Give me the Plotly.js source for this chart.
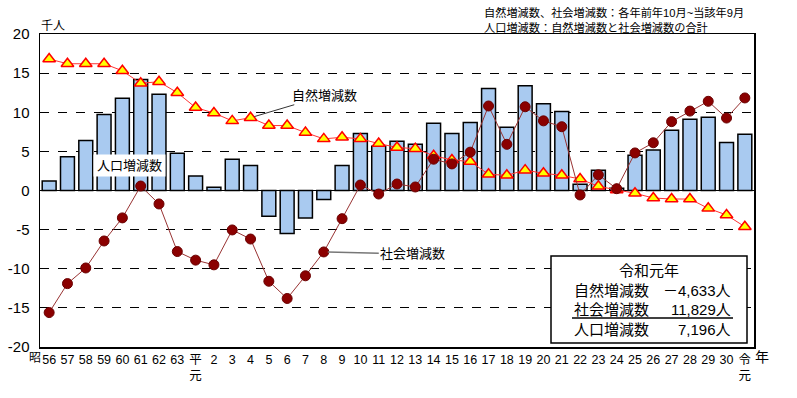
<!DOCTYPE html>
<html>
<head>
<meta charset="utf-8">
<script src="https://cdn.plot.ly/plotly-3.0.1.min.js"></script>
<style>html,body{margin:0;padding:0;background:#fff;}#chart{width:797px;height:398px;}</style>
</head>
<body>
<div id="chart"></div>
<script>
const categories = ['56','57','58','59','60','61','62','63','平<br>元','2','3','4','5','6','7','8','9','10',
  '11','12','13','14','15','16','17','18','19','20','21','22','23','24','25','26','27','28','29','30','令<br>元'];
const populationChange = [1.2,4.3,6.4,9.7,11.8,14.2,12.3,4.75,1.85,0.4,4.0,3.2,-3.3,-5.5,-3.5,-1.15,3.2,7.3,5.65,6.3,
  5.9,8.6,7.3,8.7,13.05,8.07,13.4,11.1,10.1,0.8,2.6,0.3,4.5,5.17,7.7,9.1,9.35,6.15,7.196];
const naturalChange = [16.8,16.2,16.2,16.2,15.3,13.7,13.9,12.5,10.6,9.9,8.9,9.3,8.3,8.3,7.4,6.6,6.8,6.6,6.0,5.5,
  5.35,4.45,3.9,3.7,2.07,1.94,2.6,2.2,1.94,1.47,0.53,0.06,-0.36,-0.96,-1.09,-1.09,-2.28,-3.13,-4.633];
const socialChange = [-15.6,-11.9,-9.9,-6.45,-3.5,0.57,-1.72,-7.8,-8.9,-9.5,-5.04,-6.2,-11.6,-13.8,-10.9,-7.85,-3.6,0.7,-0.45,0.83,
  0.45,4.0,3.4,4.9,10.8,5.9,10.7,8.9,8.15,-0.57,2.0,0.23,4.8,6.1,8.8,10.15,11.4,9.26,11.829];
const yTicks = [-20,-15,-10,-5,0,5,10,15,20];

const FONT = 'Liberation Sans, Arial, Noto Sans CJK JP, sans-serif';
const W = 797, H = 398;
const L = 40, R = 754, T = 34, B = 347;
const px = x => (x - L) / (R - L);
const py = y => (B - y) / (B - T);

const traces = [
  {type:'bar', name:'人口増減数', x:categories, y:populationChange, width:0.76,
   marker:{color:'#a9caf0', line:{color:'#000', width:1.5}}, hoverinfo:'skip'},
  {type:'scatter', mode:'lines+markers', name:'自然増減数', x:categories, y:naturalChange,
   line:{color:'#ff3333', width:1},
   marker:{symbol:'triangle-up', size:11, color:'#ffff00', line:{color:'#ff0000', width:1.5}}},
  {type:'scatter', mode:'lines+markers', name:'社会増減数', x:categories, y:socialChange,
   line:{color:'#993333', width:1},
   marker:{symbol:'circle', size:10, color:'#8b0000', line:{color:'#6a0000', width:1}}}
];

function pa(text, x, y, size, xanchor, opts) {
  return Object.assign({text, xref:'paper', yref:'paper', x:px(x), y:py(y), showarrow:false,
    xanchor:xanchor || 'center', yanchor:'middle',
    font:{family:FONT, size:size, color:'#000'}}, opts || {});
}

const annotations = [
  pa('千人', 39, 26, 12, 'left'),
  pa('昭', 35, 358, 12, 'center'),
  pa('年', 762, 357, 14, 'center'),
  pa('自然増減数、社会増減数：各年前年10月~当該年9月', 482, 13, 11.2, 'left'),
  pa('人口増減数：自然増減数と社会増減数の合計', 482, 27, 11.2, 'left'),
  pa('人口増減数', 129, 165, 13, 'center', {bgcolor:'#fff', borderpad:3}),
  {text:'自然増減数', x:11, y:naturalChange[11], xref:'x', yref:'y', showarrow:true, arrowhead:0,
   arrowwidth:1, arrowcolor:'#333', ax:74, ay:-22, standoff:4, xanchor:'center', yanchor:'middle',
   font:{family:FONT, size:13, color:'#000'}},
  {text:'社会増減数', x:15, y:socialChange[15], xref:'x', yref:'y', showarrow:true, arrowhead:0,
   arrowwidth:1.5, arrowcolor:'#777', ax:89, ay:2, standoff:4, xanchor:'center', yanchor:'middle',
   font:{family:FONT, size:13, color:'#000'}},
  pa('令和元年', 649, 270, 15, 'center'),
  pa('自然増減数', 572, 290, 15, 'left'),
  pa('－4,633人', 733, 290, 15, 'right'),
  pa('社会増減数', 572, 309, 15, 'left'),
  pa('11,829人', 733, 309, 15, 'right'),
  pa('人口増減数', 572, 329, 15, 'left'),
  pa('7,196人', 733, 329, 15, 'right')
];

const shapes = [
  {type:'rect', xref:'paper', yref:'paper', x0:px(551), x1:px(747), y0:py(343), y1:py(256),
   fillcolor:'#fff', line:{color:'#000', width:1.5}, layer:'above'},
  {type:'line', xref:'paper', yref:'paper', x0:px(572), x1:px(733), y0:py(318), y1:py(318),
   line:{color:'#000', width:1.5}, layer:'above'}
];

const layout = {
  width:W, height:H,
  margin:{l:L, r:W-R, t:T, b:H-B, pad:0},
  paper_bgcolor:'#fff', plot_bgcolor:'#fff',
  showlegend:false,
  font:{family:FONT, color:'#000'},
  xaxis:{type:'category', categoryorder:'array', categoryarray:categories, range:[-0.5, 38.5],
    showgrid:false, zeroline:false, showline:true, mirror:true, linecolor:'#000', linewidth:1.5,
    ticks:'', tickangle:0, tickfont:{family:FONT, size:12.5, color:'#000'}, fixedrange:true},
  yaxis:{range:[-20,20], tickvals:yTicks, ticktext:yTicks.map(String),
    showgrid:true, gridcolor:'#000', griddash:'dash', gridwidth:1,
    zeroline:true, zerolinecolor:'#000', zerolinewidth:1.5,
    showline:true, mirror:true, linecolor:'#000', linewidth:1.5,
    ticks:'', ticklabelstandoff:6, tickfont:{family:FONT, size:15, color:'#000'}, fixedrange:true},
  annotations, shapes,
  bargap:0.24
};

Plotly.newPlot('chart', traces, layout, {displayModeBar:false, staticPlot:true});
</script>
</body>
</html>
